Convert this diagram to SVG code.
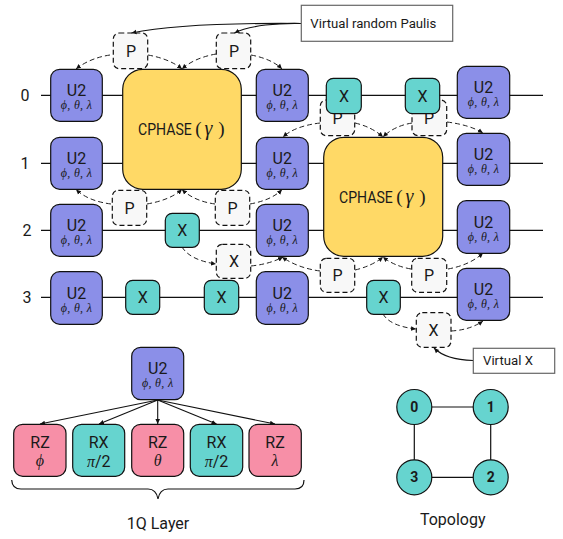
<svg xmlns="http://www.w3.org/2000/svg" width="563" height="539" viewBox="0 0 563 539">
<style>
text{font-family:Roboto,"Liberation Sans",sans-serif;fill:#1a1a1a;text-anchor:middle;font-size:16px}
.m{font-family:"Liberation Serif","DejaVu Serif",serif;font-style:italic}
.s{font-size:12px;letter-spacing:.3px}
.g{font-size:20px}
.p{font-family:"Liberation Serif",serif;font-size:19px}
.q{font-size:14px;font-weight:700}
.h{text-anchor:start}
.b{stroke:#111;stroke-width:1.2}
.u{fill:#8b8fe8}.x{fill:#66d4cf}.z{fill:#f78fa7}.y{fill:#ffd966}
.v{fill:#f8f8f8;stroke:#111;stroke-width:1.2;stroke-dasharray:5 3}
.w{stroke:#111;stroke-width:1.2;fill:none}
.d{stroke:#222;stroke-width:1;fill:none;stroke-dasharray:5 3;marker-end:url(#a)}
.l{stroke:#111;stroke-width:1.1;fill:none;marker-end:url(#a)}
.c{fill:#fff;stroke:#666;stroke-width:1.2}
.t{text-anchor:start;font-size:13.200px}
</style>
<defs>
<marker id="a" markerUnits="userSpaceOnUse" markerWidth="6" markerHeight="6" refX="5" refY="3" orient="auto"><path d="M0 0.700L5 3L0 5.300z" fill="#111"/></marker>
</defs>
<g id="wires">
<path class="w" d="M41 95.300H543M41 163.300H543M41 230.300H543M41 297.300H543"/>
</g>
<g id="wire-labels">
<text x="25" y="101">0</text><text x="25" y="169">1</text><text x="27" y="236">2</text><text x="27" y="303">3</text>
</g>
<g id="virtual-top-0"><rect class="v" x="113.300" y="33" width="34.400" height="35.700" rx="6"/><text x="131" y="56.700">P</text></g>
<g id="virtual-top-1"><rect class="v" x="216.300" y="33" width="34.400" height="35.700" rx="6"/><text x="234" y="56.700">P</text></g>
<g id="virtual-mid-0"><rect class="v" x="112.300" y="190.300" width="34.400" height="35" rx="6"/><text x="129.500" y="214">P</text></g>
<g id="virtual-mid-1"><rect class="v" x="215.300" y="190.300" width="34.400" height="35" rx="6"/><text x="232.500" y="214">P</text></g>
<g id="virtual-x-0"><rect class="v" x="216.300" y="244.300" width="34.400" height="34" rx="6"/><text x="234" y="267">X</text></g>
<g id="virtual-r-0"><rect class="v" x="320.300" y="100" width="34.400" height="35.700" rx="6"/><text x="337.500" y="124">P</text></g>
<g id="virtual-r-1"><rect class="v" x="412" y="100" width="34.700" height="35.700" rx="6"/><text x="429" y="124">P</text></g>
<g id="virtual-r-2"><rect class="v" x="320.300" y="258.300" width="34.400" height="34" rx="6"/><text x="337.500" y="281">P</text></g>
<g id="virtual-r-3"><rect class="v" x="411.700" y="258.300" width="35" height="34" rx="6"/><text x="429" y="281">P</text></g>
<g id="virtual-x-1"><rect class="v" x="416.300" y="312.700" width="34.700" height="34.600" rx="6"/><text x="433.500" y="336">X</text></g>
<g id="connectors">
<path class="d" d="M110 55Q90 58 76 69"/>
<path class="d" d="M148 55Q170 59 182 69"/>
<path class="d" d="M216 54Q194 58 182 69"/>
<path class="d" d="M251 55Q272 59 282 69"/>
<path class="d" d="M111 204Q88 201 76 189.500"/>
<path class="d" d="M147 204Q170 200 182 189.500"/>
<path class="d" d="M215 204Q194 201 182 189.500"/>
<path class="d" d="M250 204Q272 200 282 189.500"/>
<path class="d" d="M182 247Q190 260 216 264"/>
<path class="d" d="M251 266Q270 264 283 257"/>
<path class="d" d="M320 271Q298 268 282 257"/>
<path class="d" d="M355 270Q372 266 383 257"/>
<path class="d" d="M411 269Q394 266 383 257"/>
<path class="d" d="M448 269Q470 265 483 253"/>
<path class="d" d="M320 123Q295 126 283 137"/>
<path class="d" d="M355 123Q372 127 383 137"/>
<path class="d" d="M412 123Q394 126 383 137"/>
<path class="d" d="M447 122Q470 125 483 133"/>
<path class="d" d="M383 314Q390 326 416 329"/>
<path class="d" d="M451 331Q470 330 483 321"/>
<path class="l" d="M301 23.500C240 23 170 25 131.500 33"/>
<path class="l" d="M301 23.500C280 23 250 25 234.500 33"/>
<path class="l" d="M473 360.500C455 360 442 356 434 348"/>
<path class="l" d="M157.700 400L40 424"/>
<path class="l" d="M157.700 400L99 424"/>
<path class="l" d="M157.700 400V424"/>
<path class="l" d="M157.700 400L216.500 424"/>
<path class="l" d="M157.700 400L275 424"/>
<path class="w" d="M414.300 407H490.700V477.300H414.300Z"/>
</g>
<g id="u2-0-0"><rect class="u b" x="50.700" y="69.300" width="51.600" height="52" rx="9"/><text x="76.500" y="96">U2</text><text class="m s" x="76.500" y="109.300">ϕ, θ, λ</text></g>
<g id="u2-1-0"><rect class="u b" x="50.700" y="137.300" width="51.600" height="52" rx="9"/><text x="76.500" y="164">U2</text><text class="m s" x="76.500" y="177.300">ϕ, θ, λ</text></g>
<g id="u2-2-0"><rect class="u b" x="50.700" y="204.300" width="51.600" height="52" rx="9"/><text x="76.500" y="231">U2</text><text class="m s" x="76.500" y="244.300">ϕ, θ, λ</text></g>
<g id="u2-3-0"><rect class="u b" x="50.700" y="271.700" width="51.600" height="52.600" rx="9"/><text x="76.500" y="298.500">U2</text><text class="m s" x="76.500" y="311.700">ϕ, θ, λ</text></g>
<g id="u2-0-1"><rect class="u b" x="256.300" y="69.300" width="52" height="52" rx="9"/><text x="282.300" y="96">U2</text><text class="m s" x="282.300" y="109.300">ϕ, θ, λ</text></g>
<g id="u2-1-1"><rect class="u b" x="256.300" y="137.300" width="52" height="52" rx="9"/><text x="282.300" y="164">U2</text><text class="m s" x="282.300" y="177.300">ϕ, θ, λ</text></g>
<g id="u2-2-1"><rect class="u b" x="256.300" y="204.300" width="52" height="52" rx="9"/><text x="282.300" y="231">U2</text><text class="m s" x="282.300" y="244.300">ϕ, θ, λ</text></g>
<g id="u2-3-1"><rect class="u b" x="256.300" y="271.700" width="52" height="52.600" rx="9"/><text x="282.300" y="298.500">U2</text><text class="m s" x="282.300" y="311.700">ϕ, θ, λ</text></g>
<g id="u2-0-2"><rect class="u b" x="457.300" y="66.300" width="52.400" height="52" rx="9"/><text x="483.500" y="93">U2</text><text class="m s" x="483.500" y="106.300">ϕ, θ, λ</text></g>
<g id="u2-1-2"><rect class="u b" x="457.300" y="133.300" width="52.400" height="52" rx="9"/><text x="483.500" y="160">U2</text><text class="m s" x="483.500" y="173.300">ϕ, θ, λ</text></g>
<g id="u2-2-2"><rect class="u b" x="457.300" y="200.700" width="52.400" height="52.600" rx="9"/><text x="483.500" y="227.500">U2</text><text class="m s" x="483.500" y="240.700">ϕ, θ, λ</text></g>
<g id="u2-3-2"><rect class="u b" x="457.300" y="268.300" width="52.400" height="52" rx="9"/><text x="483.500" y="295">U2</text><text class="m s" x="483.500" y="308.300">ϕ, θ, λ</text></g>
<g id="cphase-0"><rect class="y b" x="122.700" y="69.300" width="118.600" height="120" rx="20"/><text class="h" transform="translate(138 135) scale(.88 1)">CPHASE</text><text class="p" x="198.500" y="135">(</text><text class="m g" x="208.500" y="135">γ</text><text class="p" x="221.500" y="135">)</text></g>
<g id="cphase-1"><rect class="y b" x="323.700" y="137.300" width="119" height="119" rx="20"/><text class="h" transform="translate(339 202.700) scale(.88 1)">CPHASE</text><text class="p" x="399.500" y="202.700">(</text><text class="m g" x="409.500" y="202.700">γ</text><text class="p" x="422.500" y="202.700">)</text></g>
<g id="x-0-0"><rect class="x b" x="326.300" y="78.300" width="35" height="35.400" rx="7"/><text x="344" y="101.500">X</text></g>
<g id="x-0-1"><rect class="x b" x="405.300" y="78.300" width="34.400" height="35.400" rx="7"/><text x="422.500" y="101.500">X</text></g>
<g id="x-2-0"><rect class="x b" x="165.300" y="213.300" width="34" height="34" rx="7"/><text x="182.300" y="236">X</text></g>
<g id="x-3-0"><rect class="x b" x="125.700" y="280.300" width="34" height="34" rx="7"/><text x="142.700" y="303">X</text></g>
<g id="x-3-1"><rect class="x b" x="204.300" y="280.300" width="34.400" height="34" rx="7"/><text x="221.500" y="303">X</text></g>
<g id="x-3-2"><rect class="x b" x="366.700" y="280.300" width="33.600" height="34" rx="7"/><text x="383.500" y="303">X</text></g>
<g id="callout-paulis"><rect class="c" x="301.300" y="5.300" width="151.400" height="36"/><text class="t" x="310.300" y="27.700">Virtual random Paulis</text></g>
<g id="callout-x"><rect class="c" x="473.300" y="348.300" width="81.400" height="25"/><text class="t" x="483" y="365.300">Virtual X</text></g>
<g id="u2-detail"><rect class="u b" x="131.700" y="347.300" width="52" height="52.400" rx="9"/><text x="157.700" y="374">U2</text><text class="m s" x="157.700" y="387.300">ϕ, θ, λ</text></g>
<g id="rz-phi"><rect class="z b" x="13.700" y="424.300" width="52.300" height="52" rx="9"/><text x="40" y="448">RZ</text><text class="m" x="40" y="466">ϕ</text></g>
<g id="rx-1"><rect class="x b" x="72.700" y="424.300" width="52" height="52" rx="9"/><text x="98.700" y="447.500">RX</text><text x="98.700" y="466.500"><tspan class="m">π</tspan>/2</text></g>
<g id="rz-theta"><rect class="z b" x="131.700" y="424.300" width="52" height="52" rx="9"/><text x="157.700" y="448">RZ</text><text class="m" x="157.700" y="466">θ</text></g>
<g id="rx-2"><rect class="x b" x="190.300" y="424.300" width="52.400" height="52" rx="9"/><text x="216.500" y="447.500">RX</text><text x="216.500" y="466.500"><tspan class="m">π</tspan>/2</text></g>
<g id="rz-lambda"><rect class="z b" x="249" y="424.300" width="52.300" height="52" rx="9"/><text x="275" y="448">RZ</text><text class="m" x="275" y="466">λ</text></g>
<g id="brace"><path class="w" d="M11.700 480C12 486 15 489 21 489H148C154 489 157 493 158 499C159 493 162 489 168 489H295C301 489 304 486 304 480"/><text x="158" y="529">1Q Layer</text></g>
<g id="q0"><circle class="x b" cx="414.300" cy="407" r="17.500"/><text class="q" x="414.300" y="412">0</text></g>
<g id="q1"><circle class="x b" cx="490.700" cy="407" r="17.500"/><text class="q" x="490.700" y="412">1</text></g>
<g id="q2"><circle class="x b" cx="490.700" cy="477.300" r="17.500"/><text class="q" x="490.700" y="482.300">2</text></g>
<g id="q3"><circle class="x b" cx="414.300" cy="477.300" r="17.500"/><text class="q" x="414.300" y="482.300">3</text></g>
<text x="452.700" y="525">Topology</text>
</svg>
